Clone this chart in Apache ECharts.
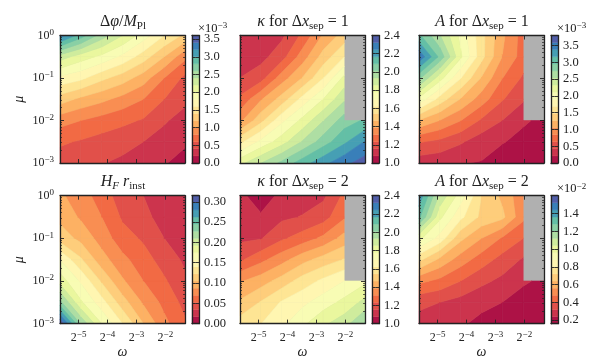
<!DOCTYPE html>
<html><head><meta charset="utf-8">
<style>html,body{margin:0;padding:0;background:#fff}#c{width:600px;height:360px}</style>
<script src="https://cdn.jsdelivr.net/npm/echarts@6/dist/echarts.min.js"></script>
</head><body><div id="c"></div>
<script>
// grid of the simulations
const omega = [0.02, 0.0329, 0.0543, 0.0894, 0.1474, 0.2429, 0.4];
const mu = [0.001, 0.00316, 0.01, 0.0316, 0.1, 0.316, 1];
const omegaTicks = [1/32, 1/16, 1/8, 1/4];
const muTicks = [0.001, 0.01, 0.1, 1];
const muMinor = [2,3,4,5,6,7,8,9,20,30,40,50,60,70,80,90,200,300,400,500,600,700,800,900].map(v => v / 1000);

// each inner list: one omega column, mu from low to high (null = no run)
const deltaPhi = [
 [.5,.63,.88,1.3,1.75,2.3,3.3],
 [.42,.58,.8,1.15,1.65,2.1,2.9],
 [.41,.52,.72,1.05,1.45,1.95,2.5],
 [.36,.47,.65,.93,1.3,1.75,2.2],
 [.28,.4,.58,.8,1.1,1.5,1.9],
 [.22,.33,.42,.6,.8,1.2,1.6],
 [.1,.24,.33,.44,.55,.85,1.35]];
const kappa1 = [
 [1.83,1.6,1.37,1.25,1.156,1.12,1.11],
 [1.93,1.72,1.52,1.38,1.2,1.13,1.11],
 [2.03,1.82,1.68,1.5,1.35,1.2,1.14],
 [2.13,1.94,1.8,1.65,1.47,1.35,1.25],
 [2.22,2.05,1.93,1.78,1.62,1.5,1.4],
 [2.3,2.15,2.05,1.92,1.8,1.62,1.5],
 [2.36,2.25,2.1,null,null,null,null]];
const ampl1 = [
 [.3,.65,1.25,2.05,2.8,3.55,3.0],
 [.27,.58,1.05,1.6,2.2,2.9,2.55],
 [.22,.45,.85,1.25,1.7,2.15,2.05],
 [.2,.3,.6,.95,1.25,1.55,1.55],
 [.14,.22,.42,.65,.85,1.05,1.1],
 [.1,.17,.23,.45,.6,.75,.75],
 [.07,.12,.18,null,null,null,null]];
const hfr = [
 [.314,.232,.185,.157,.115,.1,.09],
 [.225,.178,.155,.125,.1,.085,.08],
 [.175,.147,.12,.095,.08,.07,.06],
 [.14,.113,.09,.075,.06,.05,.045],
 [.105,.085,.07,.06,.05,.04,.035],
 [.075,.065,.055,.045,.035,.028,.024],
 [.055,.047,.038,.032,.026,.022,.02]];
const kappa2 = [
 [1.58,1.48,1.38,1.22,1.14,1.1,1.1],
 [1.62,1.55,1.43,1.29,1.15,1.09,1.03],
 [1.68,1.63,1.5,1.36,1.22,1.14,1.1],
 [1.76,1.68,1.58,1.44,1.27,1.16,1.12],
 [1.84,1.74,1.64,1.5,1.33,1.2,1.14],
 [1.9,1.8,1.7,1.55,1.42,1.3,1.25],
 [2.02,1.88,1.76,null,null,null,null]];
const ampl2 = [
 [.29,.34,.5,.74,.98,1.3,1.42],
 [.27,.32,.46,.62,.85,.98,1.1],
 [.25,.29,.4,.52,.66,.82,.92],
 [.22,.26,.34,.44,.56,.7,.72],
 [.2,.24,.3,.37,.47,.66,.62],
 [.18,.21,.25,.31,.4,.5,.5],
 [.165,.18,.225,null,null,null,null]];

const spectral = [[158,1,66],[213,62,79],[244,109,67],[253,174,97],[254,224,139],[255,255,191],[230,245,152],[171,221,164],[102,194,165],[50,136,189],[94,79,162]];
function cmap(t){const f=t*10,i=Math.min(9,Math.floor(f)),a=f-i,p=spectral[i],q=spectral[i+1];
 return 'rgb('+p.map((v,k)=>Math.round(v+(q[k]-v)*a)).join(',')+')';}

const SERIF = '"Liberation Serif","DejaVu Serif",serif';
const INK = '#222';
const base = {fontFamily:SERIF,fontWeight:'normal',color:INK};
const rich = {
 i:Object.assign({},base,{fontStyle:'italic',fontSize:16}),
 n:Object.assign({},base,{fontSize:16}),
 u:Object.assign({},base,{fontSize:11,padding:[8,0,0,0]}),
 ui:Object.assign({},base,{fontStyle:'italic',fontSize:11,padding:[8,0,0,0]}),
 b:Object.assign({},base,{fontSize:12}),
 s:Object.assign({},base,{fontSize:9,padding:[0,0,6,0]})
};
const BANDS = 18;
const panels = [
 {z:deltaPhi,x:60,y:35.5,h:127.5,lo:0,hi:3.6,ticks:[0,.5,1,1.5,2,2.5,3,3.5],dec:1,t:'{n|Δ}{i|φ}{n|/}{i|M}{u|Pl}',mul:'-3',lab:true,xl:false},
 {z:kappa1,x:240,y:35.5,h:127.5,lo:1,hi:2.4,ticks:[1,1.2,1.4,1.6,1.8,2,2.2,2.4],dec:1,t:'{i|κ}{n| for Δ}{i|x}{u|sep}{n| = 1}',lab:false,xl:false},
 {z:ampl1,x:419,y:35.5,h:127.5,lo:0,hi:3.8,ticks:[0,.5,1,1.5,2,2.5,3,3.5],dec:1,t:'{i|A}{n| for Δ}{i|x}{u|sep}{n| = 1}',mul:'-3',lab:false,xl:false},
 {z:hfr,x:60,y:195.7,h:128,lo:0,hi:.315,ticks:[0,.05,.1,.15,.2,.25,.3],dec:2,t:'{i|H}{ui|F}{i| r}{u|inst}',lab:true,xl:true},
 {z:kappa2,x:240,y:195.7,h:128,lo:1,hi:2.4,ticks:[1,1.2,1.4,1.6,1.8,2,2.2,2.4],dec:1,t:'{i|κ}{n| for Δ}{i|x}{u|sep}{n| = 2}',lab:false,xl:true},
 {z:ampl2,x:419,y:195.7,h:128,lo:.16,hi:1.6,ticks:[.2,.4,.6,.8,1,1.2,1.4],dec:1,t:'{i|A}{n| for Δ}{i|x}{u|sep}{n| = 2}',mul:'-2',lab:false,xl:true}
];

function clip(poly, lo, keepAbove){
 const out=[];
 for(let k=0;k<poly.length;k++){
  const a=poly[k],b=poly[(k+1)%poly.length];
  const ia=keepAbove?a[2]>=lo:a[2]<=lo, ib=keepAbove?b[2]>=lo:b[2]<=lo;
  if(ia)out.push(a);
  if(ia!==ib){const f=(lo-a[2])/(b[2]-a[2]);out.push([a[0]+(b[0]-a[0])*f,a[1]+(b[1]-a[1])*f,lo]);}
 }
 return out;
}

const grid=[],xAxis=[],yAxis=[],series=[],title=[];
const line={show:true,onZero:false,lineStyle:{color:INK,width:1.3}};
const fmtPow=(b)=>v=>{const e=Math.round(Math.log(v)/Math.log(b));return '{b|'+b+'}{s|'+(e<0?'−'+(-e):e)+'}';};

panels.forEach(p=>{
 const step=(p.hi-p.lo)/BANDS;
 const g=grid.length;
 grid.push({left:p.x,top:p.y,width:125,height:p.h,backgroundColor:'#b0b0b0',show:true,borderWidth:0});
 const xi=xAxis.length,yi=yAxis.length;
 const xBase={type:'log',logBase:2,gridIndex:g,min:omega[0],max:omega[6],z:5,axisLine:line,splitLine:{show:false},minorTick:{show:false}};
 xAxis.push(Object.assign({},xBase,{position:'bottom',
  axisTick:{show:true,inside:true,length:4,customValues:omegaTicks,lineStyle:{color:INK,width:.9}},
  axisLabel:{show:p.xl,customValues:omegaTicks,margin:7,formatter:fmtPow(2),rich:rich},
  name:p.xl?'ω':'',nameLocation:'middle',nameGap:19,nameTextStyle:{fontFamily:SERIF,fontStyle:'italic',fontSize:14,color:INK}}));
 xAxis.push(Object.assign({},xBase,{position:'top',
  axisTick:{show:true,inside:true,length:4,customValues:omegaTicks,lineStyle:{color:INK,width:.9}},
  axisLabel:{show:false}}));
 const yBase={type:'log',logBase:10,gridIndex:g,min:.001,max:1,z:5,offset:0,splitLine:{show:false},minorTick:{show:false}};
 yAxis.push(Object.assign({},yBase,{position:'left',axisLine:line,
  axisTick:{show:true,inside:true,length:4,customValues:muTicks,lineStyle:{color:INK,width:.9}},
  axisLabel:{show:p.lab,customValues:muTicks,margin:6,formatter:fmtPow(10),rich:rich},
  name:p.lab?'μ':'',nameLocation:'middle',nameGap:34,nameRotate:90,nameTextStyle:{fontFamily:SERIF,fontStyle:'italic',fontSize:14,color:INK}}));
 yAxis.push(Object.assign({},yBase,{position:'right',axisLine:line,
  axisTick:{show:true,inside:true,length:4,customValues:muTicks,lineStyle:{color:INK,width:.9}},axisLabel:{show:false}}));
 ['left','right'].forEach(side=>yAxis.push(Object.assign({},yBase,{position:side,axisLine:{show:false},
  axisTick:{show:true,inside:true,length:2,customValues:muMinor,lineStyle:{color:INK,width:.7}},axisLabel:{show:false}})));

 const cells=[];
 for(let i=0;i<6;i++)for(let j=0;j<6;j++){
  const q=[p.z[i][j],p.z[i+1][j],p.z[i+1][j+1],p.z[i][j+1]];
  if(q.every(v=>v!==null))cells.push([omega[i],mu[j],i,j]);
 }
 series.push({type:'custom',coordinateSystem:'cartesian2d',xAxisIndex:xi,yAxisIndex:yi,z:2,silent:true,
  encode:{x:0,y:1},data:cells,animation:false,
  renderItem:(params,api)=>{
   const i=api.value(2),j=api.value(3);
   const corner=(a,b)=>{const c=api.coord([omega[a],mu[b]]);return [c[0],c[1],p.z[a][b]];};
   const quad=[corner(i,j),corner(i+1,j),corner(i+1,j+1),corner(i,j+1)];
   const children=[];
   for(let k=0;k<BANDS;k++){
    const lo=p.lo+k*step,hi=lo+step;
    let poly=clip(quad,lo,true);
    if(poly.length>2)poly=clip(poly,hi,false);
    if(poly.length>2){const col=cmap((k+.5)/BANDS);
     children.push({type:'polygon',shape:{points:poly.map(a=>[a[0],a[1]])},style:{fill:col,stroke:col,lineWidth:.6}});}
   }
   return {type:'group',children};
  }});

 const cg=grid.length;
 grid.push({left:p.x+132,top:p.y,width:7,height:p.h,show:false});
 const cx=xAxis.length,cy=yAxis.length;
 const cbLine={show:true,onZero:false,lineStyle:{color:INK,width:1.3}};
 ['bottom','top'].forEach(pos=>xAxis.push({type:'value',gridIndex:cg,min:0,max:1,position:pos,z:5,axisLine:cbLine,axisTick:{show:false},axisLabel:{show:false},splitLine:{show:false}}));
 const fmt=v=>v.toFixed(p.dec===2?2:1);
 yAxis.push({type:'value',gridIndex:cg,min:p.lo,max:p.hi,position:'right',z:5,axisLine:cbLine,splitLine:{show:false},
  axisTick:{show:true,inside:true,length:3.5,customValues:p.ticks,lineStyle:{color:INK,width:.9}},
  axisLabel:{show:true,customValues:p.ticks,margin:5,formatter:fmt,fontFamily:SERIF,fontSize:12.5,color:INK}});
 yAxis.push({type:'value',gridIndex:cg,min:p.lo,max:p.hi,position:'left',z:5,axisLine:cbLine,splitLine:{show:false},
  axisTick:{show:true,inside:true,length:3.5,customValues:p.ticks,lineStyle:{color:INK,width:.9}},axisLabel:{show:false}});
 const bands=[];
 for(let k=0;k<BANDS;k++)bands.push([p.lo+k*step,p.lo+(k+1)*step,(k+.5)/BANDS]);
 series.push({type:'custom',coordinateSystem:'cartesian2d',xAxisIndex:cx,yAxisIndex:cy,z:2,silent:true,animation:false,
  encode:{y:0},data:bands,
  renderItem:(params,api)=>{
   const a=api.coord([0,api.value(0)]),b=api.coord([1,api.value(1)]);
   const col=cmap(api.value(2));
   return {type:'rect',shape:{x:a[0],y:b[1],width:b[0]-a[0],height:a[1]-b[1]},style:{fill:col,stroke:col,lineWidth:.4}};
  }});

 title.push({text:p.t,left:p.x+58,top:p.y-28,textAlign:'center',textStyle:{rich:rich,fontFamily:SERIF,fontWeight:'normal',fontSize:16,color:INK}});
 if(p.mul)title.push({text:'{n2|×10}{s|'+p.mul.replace('-','−')+'}',left:p.x+133,top:p.y-19,textAlign:'left',
  textStyle:{fontWeight:'normal',rich:Object.assign({},rich,{n2:Object.assign({},base,{fontSize:12.5})})}});
});

const chart=echarts.init(document.getElementById('c'),null,{renderer:'canvas',width:600,height:360});
chart.setOption({animation:false,backgroundColor:'#fff',title,grid,xAxis,yAxis,series});
</script></body></html>
